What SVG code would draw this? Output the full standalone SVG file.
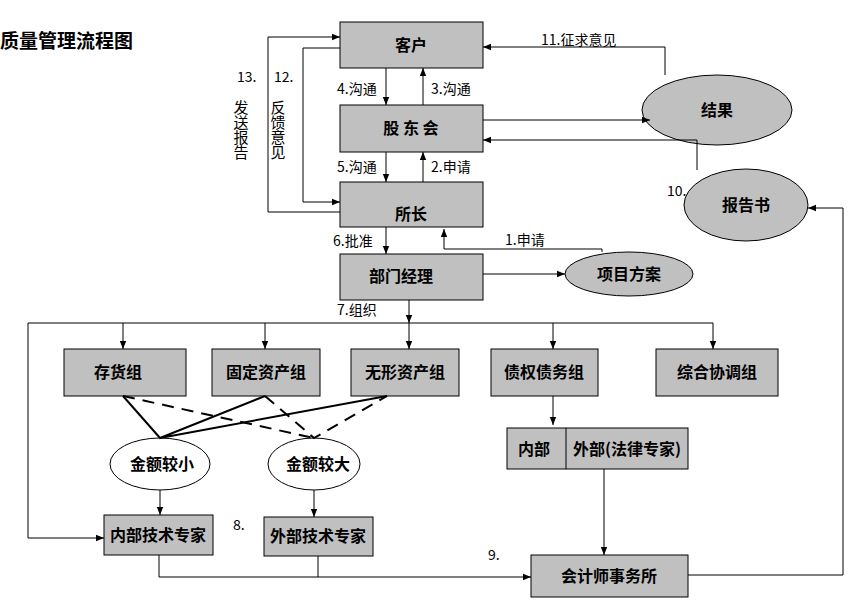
<svg xmlns="http://www.w3.org/2000/svg" width="862" height="600" viewBox="0 0 862 600">
<defs><marker id="a" viewBox="0 0 10 10" refX="10" refY="5" markerWidth="8" markerHeight="8" orient="auto"><path d="M0,1 L10,5 L0,9 z" fill="#000"/></marker>
<style>
.b{fill:#c0c0c0;stroke:#000;stroke-width:1}
.e{fill:#c0c0c0;stroke:#000}
.w{fill:#fff;stroke:#000}
text{font-family:"Noto Sans CJK SC","Liberation Serif",serif;fill:#000}
.t{font-size:16px;font-weight:bold;text-anchor:middle}
.l{font-size:14px}
.c{fill:none;stroke:#000;stroke-width:1}
.d{fill:none;stroke:#000;stroke-width:2;stroke-dasharray:12,8}
.s{fill:none;stroke:#000;stroke-width:2}
</style></defs>
<rect width="862" height="600" fill="#fff"/>
<text x="0" y="48" style="font-size:19px;font-weight:bold">质量管理流程图</text>
<g id="n1"><rect class="b" x="340" y="22" width="143" height="46"/><text class="t" x="411" y="51">客户</text></g>
<g id="n2"><rect class="b" x="340" y="105" width="143" height="47"/><text class="t" x="411" y="134">股 东 会</text></g>
<g id="n3"><rect class="b" x="340" y="182" width="143" height="45"/><text class="t" x="411" y="220">所长</text></g>
<g id="n4"><rect class="b" x="340" y="254" width="143" height="46"/><text class="t" x="401" y="282">部门经理</text></g>
<g id="n5"><ellipse class="e" cx="629" cy="274" rx="64" ry="22"/><text class="t" x="629" y="280">项目方案</text></g>
<g id="n6"><ellipse class="e" cx="717" cy="110" rx="75" ry="35"/><text class="t" x="717" y="116">结果</text></g>
<g id="n7"><ellipse class="e" cx="746" cy="205" rx="62" ry="36"/><text class="t" x="746" y="211">报告书</text></g>
<g id="g1"><rect class="b" x="64" y="349" width="122" height="47"/><text class="t" x="118" y="378">存货组</text></g>
<g id="g2"><rect class="b" x="212" y="349" width="108" height="47"/><text class="t" x="266" y="378">固定资产组</text></g>
<g id="g3"><rect class="b" x="351" y="349" width="108" height="47"/><text class="t" x="405" y="378">无形资产组</text></g>
<g id="g4"><rect class="b" x="491" y="349" width="107" height="47"/><text class="t" x="544" y="378">债权债务组</text></g>
<g id="g5"><rect class="b" x="656" y="349" width="122" height="47"/><text class="t" x="717" y="378">综合协调组</text></g>
<g id="e1"><ellipse class="w" cx="160" cy="464" rx="50" ry="26"/><text class="t" x="162" y="470">金额较小</text></g>
<g id="e2"><ellipse class="w" cx="314" cy="464" rx="46" ry="26"/><text class="t" x="318" y="470">金额较大</text></g>
<g id="x1"><rect class="b" x="104" y="515" width="109" height="40"/><text class="t" x="158" y="541">内部技术专家</text></g>
<g id="x2"><rect class="b" x="264" y="517" width="109" height="39"/><text class="t" x="318" y="542">外部技术专家</text></g>
<g id="x3"><rect class="b" x="507" y="428" width="181" height="41"/><line x1="566" y1="428" x2="566" y2="469" stroke="#000"/><text class="t" x="534" y="455">内部</text><text class="t" x="627" y="455">外部(法律专家)</text></g>
<g id="x4"><rect class="b" x="531" y="555" width="157" height="42"/><text class="t" x="609" y="582">会计师事务所</text></g>
<g id="edges">
<path class="c" d="M386,68V105" marker-end="url(#a)"/>
<path class="c" d="M423,105V68" marker-end="url(#a)"/>
<path class="c" d="M386,152V182" marker-end="url(#a)"/>
<path class="c" d="M423,182V152" marker-end="url(#a)"/>
<path class="c" d="M386,227V254" marker-end="url(#a)"/>
<path class="c" d="M409,300V323" marker-end="url(#a)"/>
<path class="c" d="M340,212H268V37H340" marker-end="url(#a)"/>
<path class="c" d="M340,48H303V202H340" marker-end="url(#a)"/>
<path class="c" d="M665,75V47H483" marker-end="url(#a)"/>
<path class="c" d="M483,120H650" marker-end="url(#a)"/>
<path class="c" d="M697,170V140H483" marker-end="url(#a)"/>
<path class="c" d="M602,252V249H444V229" marker-end="url(#a)"/>
<path class="c" d="M483,274H565" marker-end="url(#a)"/>
<path class="c" d="M28,323H713"/>
<path class="c" d="M123,323V349" marker-end="url(#a)"/>
<path class="c" d="M265,323V349" marker-end="url(#a)"/>
<path class="c" d="M409,323V349" marker-end="url(#a)"/>
<path class="c" d="M553,323V349" marker-end="url(#a)"/>
<path class="c" d="M713,323V349" marker-end="url(#a)"/>
<path class="c" d="M28,323V538H104" marker-end="url(#a)"/>
<path class="s" d="M123,396L160,438L265,396M160,438L387,396"/>
<path class="d" d="M123,396L314,438M265,396L314,438L387,396"/>
<path class="c" d="M160,490V515" marker-end="url(#a)"/>
<path class="c" d="M314,490V517" marker-end="url(#a)"/>
<path class="c" d="M553,396V425" marker-end="url(#a)"/>
<path class="c" d="M604,469V555" marker-end="url(#a)"/>
<path class="c" d="M159,555V577H531" marker-end="url(#a)"/>
<path class="c" d="M318,556V577"/>
<path class="c" d="M688,575H843V208H808" marker-end="url(#a)"/>
</g>
<g class="l">
<text x="337" y="94">4.沟通</text><text x="431" y="94">3.沟通</text>
<text x="337" y="172">5.沟通</text><text x="431" y="172">2.申请</text>
<text x="333" y="246">6.批准</text><text x="337" y="315">7.组织</text>
<text x="505" y="245">1.申请</text><text x="541" y="45">11.征求意见</text>
<text x="667" y="196">10.</text><text x="233" y="530">8.</text><text x="488" y="560">9.</text>
<text x="237" y="82">13.</text><text x="274" y="82">12.</text>
<text x="241" y="100" style="writing-mode:vertical-rl;font-size:15px">发送报告</text>
<text x="278" y="100" style="writing-mode:vertical-rl;font-size:15px">反馈意见</text>
</g>
</svg>
